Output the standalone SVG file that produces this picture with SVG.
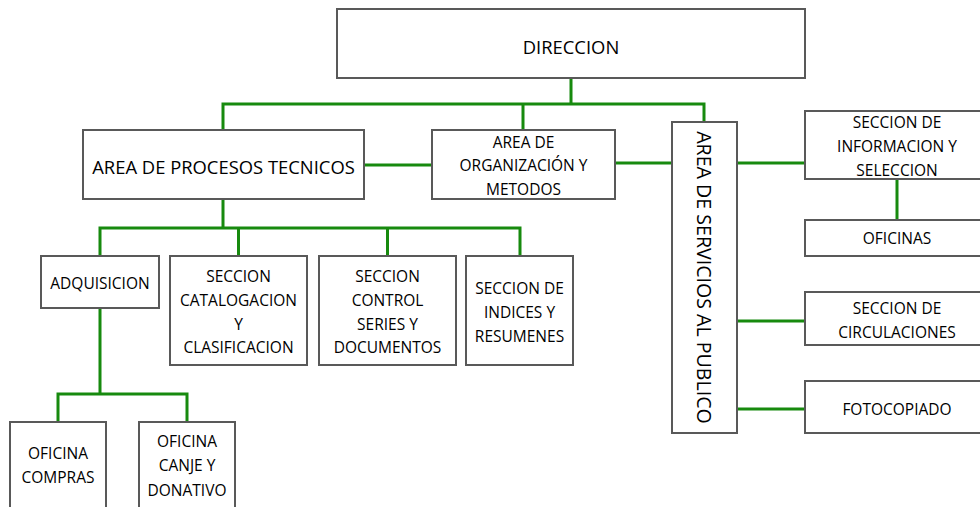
<svg xmlns="http://www.w3.org/2000/svg" width="980" height="507" viewBox="0 0 980 507">
<style>
.box{fill:#ffffff;stroke:#595959;stroke-width:2}
.t{font-family:"Open Sans","DejaVu Sans",sans-serif;font-size:15.5px;fill:#000;text-anchor:middle;dominant-baseline:central}
.big{font-size:18.4px}
.vert{font-size:19.6px}
.c{fill:none;stroke:#178A0E;stroke-width:3;stroke-linejoin:miter;stroke-linecap:square}
</style>
<rect width="980" height="507" fill="#ffffff"/>
<g id="connectors">
<path class="c" d="M571 78 V104 M223 130 V104 H704 V122 M523 104 V130"/>
<path class="c" d="M364 165 H432 M615 163 H672 M737 163 H805"/>
<path class="c" d="M897 179 V220 M737 321 H805 M737 409 H805"/>
<path class="c" d="M223 199 V228 M100 256 V228 H520 V256 M238.5 228 V256 M387.5 228 V256"/>
<path class="c" d="M100 308 V394 M58 422 V394 H187 V422"/>
</g>
<g id="direccion"><rect class="box" x="337" y="9" width="468" height="69"/><text class="t big" x="571" y="46">DIRECCION</text></g>
<g id="procesos"><rect class="box" x="83" y="130" width="281" height="69"/><text class="t big" x="223.5" y="166">AREA DE PROCESOS TECNICOS</text></g>
<g id="organizacion"><rect class="box" x="432" y="130" width="183" height="69"/><text class="t" x="523.5" y="142">AREA DE</text><text class="t" x="523.5" y="165">ORGANIZACIÓN Y</text><text class="t" x="523.5" y="189">METODOS</text></g>
<g id="servicios"><rect class="box" x="672" y="122" width="65" height="311"/><text class="t vert" x="0" y="0" transform="translate(704 277.5) rotate(90)">AREA DE SERVICIOS AL PUBLICO</text></g>
<g id="informacion"><rect class="box" x="805" y="111" width="185" height="68"/><text class="t" x="897" y="122">SECCION DE</text><text class="t" x="897" y="146">INFORMACION Y</text><text class="t" x="897" y="170">SELECCION</text></g>
<g id="oficinas"><rect class="box" x="805" y="220" width="185" height="36"/><text class="t" x="897" y="238">OFICINAS</text></g>
<g id="circulaciones"><rect class="box" x="805" y="292" width="185" height="53"/><text class="t" x="897" y="308">SECCION DE</text><text class="t" x="897" y="332">CIRCULACIONES</text></g>
<g id="fotocopiado"><rect class="box" x="805" y="381" width="185" height="52"/><text class="t" x="897" y="409">FOTOCOPIADO</text></g>
<g id="adquisicion"><rect class="box" x="41" y="256" width="118" height="52"/><text class="t" x="100" y="283">ADQUISICION</text></g>
<g id="catalogacion"><rect class="box" x="170" y="256" width="137" height="109"/><text class="t" x="238.5" y="276">SECCION</text><text class="t" x="238.5" y="300">CATALOGACION</text><text class="t" x="238.5" y="324">Y</text><text class="t" x="238.5" y="347">CLASIFICACION</text></g>
<g id="control"><rect class="box" x="319" y="256" width="137" height="109"/><text class="t" x="387.5" y="276">SECCION</text><text class="t" x="387.5" y="300">CONTROL</text><text class="t" x="387.5" y="324">SERIES Y</text><text class="t" x="387.5" y="347">DOCUMENTOS</text></g>
<g id="indices"><rect class="box" x="466" y="256" width="107" height="109"/><text class="t" x="519.5" y="288">SECCION DE</text><text class="t" x="519.5" y="312">INDICES Y</text><text class="t" x="519.5" y="336">RESUMENES</text></g>
<g id="compras"><rect class="box" x="10" y="422" width="96" height="90"/><text class="t" x="58" y="453">OFICINA</text><text class="t" x="58" y="477">COMPRAS</text></g>
<g id="canje"><rect class="box" x="139" y="422" width="96" height="90"/><text class="t" x="187" y="441">OFICINA</text><text class="t" x="187" y="465">CANJE Y</text><text class="t" x="187" y="490">DONATIVO</text></g>
</svg>
